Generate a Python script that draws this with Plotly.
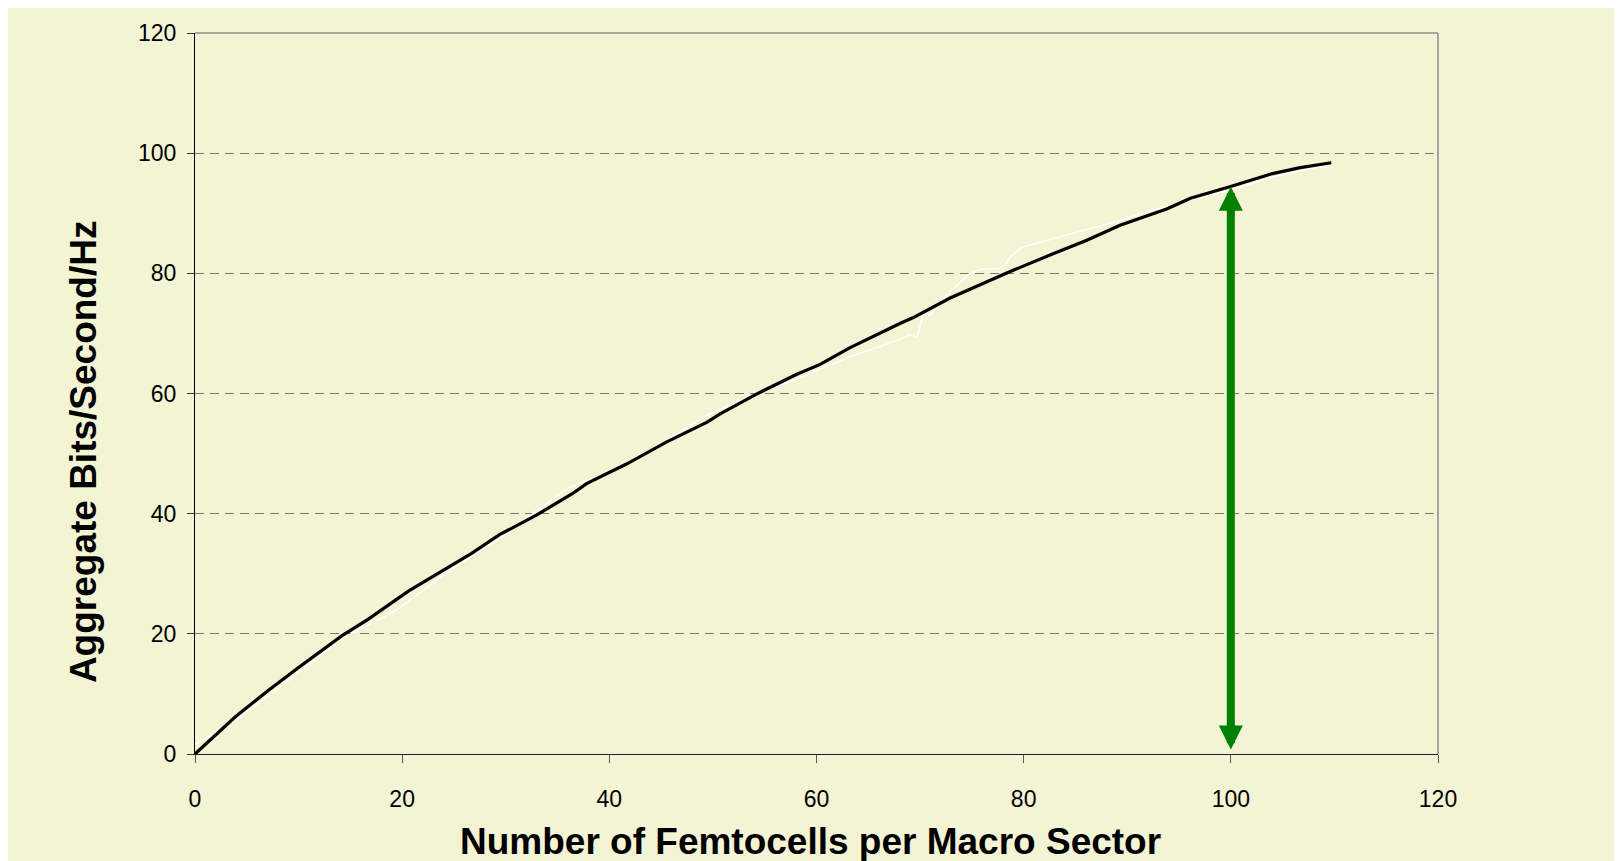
import plotly.graph_objects as go

# ---- data ----
femto_x = [0, 3.9, 7.1, 10, 14.2, 16.7, 20.6, 23.8, 26.7, 29.4, 33, 36.5, 37.8,
           41.7, 45.5, 49.4, 50.7, 54.2, 58.1, 60.3, 63.2, 68.1, 69.3, 72.9, 75.8,
           78.7, 82.9, 86.1, 89.3, 90.6, 93.8, 96.1, 99.9, 103.8, 106.7, 109.7]
bits_y = [0, 6.2, 10.6, 14.4, 19.7, 22.4, 27.1, 30.4, 33.4, 36.5, 39.8, 43.4, 45.0,
          48.3, 51.9, 55.2, 56.6, 59.9, 63.2, 64.8, 67.6, 71.7, 72.6, 75.9, 78.1,
          80.3, 83.3, 85.5, 88.0, 88.8, 90.7, 92.5, 94.4, 96.5, 97.6, 98.4]

ghost_x = [0, 3, 8, 14, 19.3, 25, 30, 35.9, 40, 45, 49.4, 54, 58.4, 63, 68.1, 69.0,
           69.7, 70.3, 71.0, 72.6, 74.8, 75.8, 77.7, 78.2, 78.7, 79.8, 83.5, 89.3,
           92, 96, 100, 104, 107, 109.7]
ghost_y = [1.6, 4.6, 10.9, 19.0, 23.8, 31.0, 36.6, 44.2, 47.0, 51.6, 56.4, 59.8,
           62.6, 66.0, 69.0, 69.8, 69.3, 73.1, 73.1, 76.4, 80.0, 80.7, 80.8, 81.4,
           82.7, 84.3, 86.1, 88.8, 90.3, 92.2, 93.9, 96.0, 97.2, 98.1]

x_ticks = [0, 20, 40, 60, 80, 100, 120]
y_ticks = [0, 20, 40, 60, 80, 100, 120]

arrow_x = 100
arrow_top = 94.4
arrow_bottom = 0.5

x_title = "Number of Femtocells per Macro Sector"
y_title = "Aggregate Bits/Second/Hz"

BG = "#F3F4D4"
FONT = "Liberation Sans, Arial, sans-serif"

fig = go.Figure()
fig.add_trace(go.Scatter(x=ghost_x, y=ghost_y, mode="lines",
                         line=dict(color="white", width=1.5), hoverinfo="skip"))
fig.add_trace(go.Scatter(x=femto_x, y=bits_y, mode="lines",
                         line=dict(color="black", width=3.2)))

fig.update_layout(
    width=1614, height=853,
    margin=dict(l=187, r=184, t=21, b=107, pad=0),
    paper_bgcolor=BG, plot_bgcolor=BG,
    showlegend=False,
    font=dict(family=FONT, size=23, color="black"),
    xaxis=dict(range=[0, 120], tickvals=x_ticks, ticktext=[str(v) for v in x_ticks],
               showgrid=False, zeroline=False, showline=True, linecolor="#222",
               linewidth=1, ticks="outside", ticklen=8, tickcolor="#555",
               tickwidth=1, ticklabelstandoff=16, tickfont=dict(family=FONT, size=23)),
    yaxis=dict(range=[0, 120], tickvals=y_ticks, ticktext=[str(v) for v in y_ticks],
               showgrid=True, gridcolor="#7a7a72", griddash="9px,6px", gridwidth=1,
               zeroline=False, showline=True, linecolor="black", linewidth=1,
               ticks="outside", ticklen=7, tickcolor="#333", tickwidth=1,
               ticklabelstandoff=6, tickfont=dict(family=FONT, size=23)),
    shapes=[
        dict(type="line", xref="paper", yref="paper", x0=0, x1=1, y0=1, y1=1,
             line=dict(color="#8c8c8c", width=1.5)),
        dict(type="line", xref="paper", yref="paper", x0=1, x1=1, y0=0, y1=1,
             line=dict(color="#8c8c8c", width=1.5)),
    ],
    annotations=[
        dict(x=arrow_x, y=arrow_top, ax=arrow_x, ay=arrow_bottom, xref="x", yref="y",
             axref="x", ayref="y", text="", showarrow=True, arrowhead=2,
             startarrowhead=2, arrowside="end+start", arrowwidth=8, arrowsize=0.6,
             startarrowsize=0.6, arrowcolor="#008000"),
        dict(text=f"<b>{x_title}</b>", xref="paper", yref="paper", x=0.4948,
             y=-0.121, xanchor="center", yanchor="middle", showarrow=False,
             font=dict(family=FONT, size=37, color="black")),
        dict(text=f"<b>{y_title}</b>", xref="paper", yref="paper", x=-0.0901,
             y=0.4187, xanchor="center", yanchor="middle", showarrow=False,
             textangle=-90, font=dict(family=FONT, size=37, color="black")),
    ],
)

fig.write_html("out.html")
